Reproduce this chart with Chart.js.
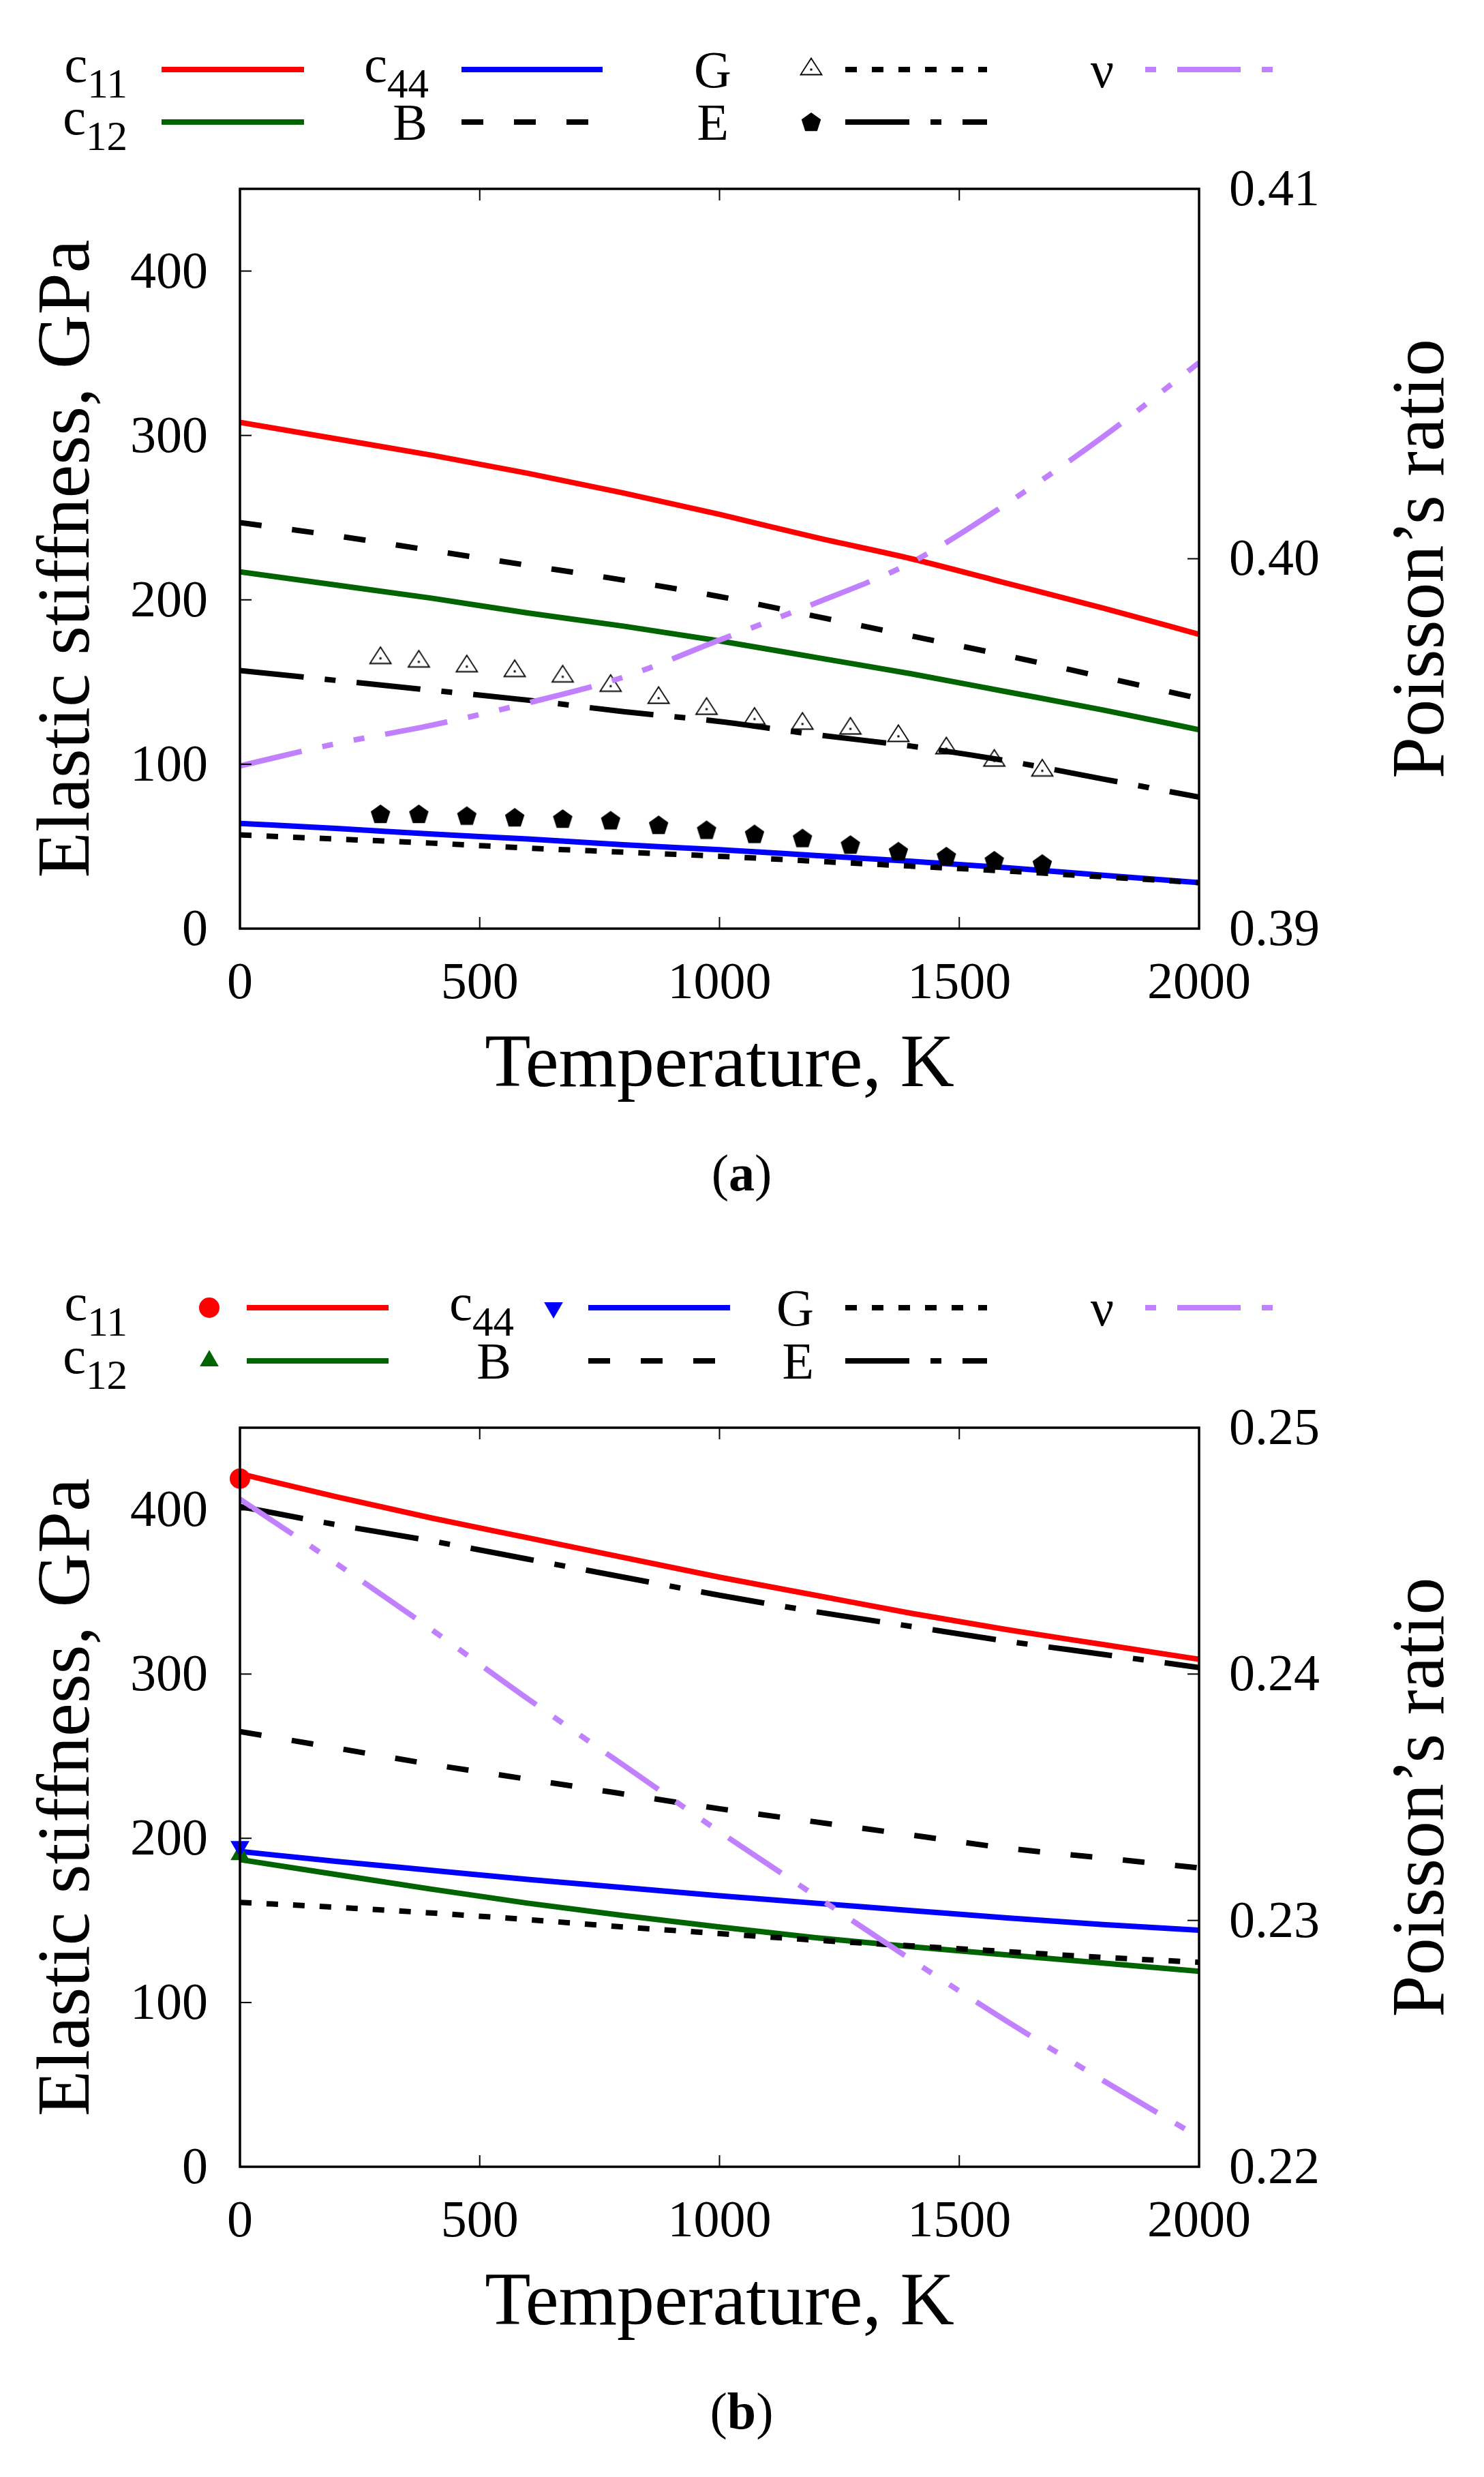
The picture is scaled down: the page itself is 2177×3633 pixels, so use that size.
<!DOCTYPE html>
<html><head><meta charset="utf-8">
<script src="https://cdn.jsdelivr.net/npm/chart.js@4.4.1/dist/chart.umd.min.js"></script>
<style>
html,body{margin:0;padding:0;background:#fff;}
#wrap{position:relative;width:2177px;height:3633px;background:#fff;overflow:hidden;}
canvas{position:absolute;left:0;}
</style></head><body>
<div id="wrap">
<canvas id="ca" width="2177" height="1816" style="top:0;width:2177px;height:1816px"></canvas>
<canvas id="cb" width="2177" height="1817" style="top:1816px;width:2177px;height:1817px"></canvas>
</div>
<script>
// ---------------- DATA ----------------
const temps = [0, 200, 400, 600, 800, 1000, 1200, 1400, 1600, 1800, 2000];
// panel (a)
const c11A = [308, 298, 288, 277, 265, 252, 238, 225, 210, 195, 179];
const c12A = [217, 209, 201, 192, 184, 175, 165, 155, 144, 133, 121];
const c44A = [64, 61, 57.5, 54.5, 51, 48, 44.5, 41, 37, 32.5, 28];
const bulkA = [247, 239, 230, 221, 212, 202, 190, 178, 166, 153, 140];
const shearA = [57, 54.5, 52, 49, 46.5, 44, 41, 38, 35, 31.5, 28];
const youngA = [157, 151, 145, 139, 132, 126, 118, 111, 102, 91, 80];
const poissonA = [0.3944, 0.3950, 0.3955, 0.3961, 0.3968, 0.3978, 0.3988, 0.3999, 0.4015, 0.4033, 0.4053];
const expTempsA = [293, 373, 473, 573, 673, 773, 873, 973, 1073, 1173, 1273, 1373, 1473, 1573, 1673];
const shearExpA = [164.4, 162.3, 159.4, 156.5, 153.2, 147.5, 140.2, 133.5, 127.5, 124.5, 121.5, 117, 109.5, 102, 96];
const youngExpA = [69.7, 69.7, 68.6, 67.6, 66.8, 65.8, 63, 60, 57.5, 55, 51, 47, 44, 41.5, 39.5];
// panel (b)
const c11B = [422, 408, 395, 383, 371, 359, 348, 337, 327, 318, 309];
const c12B = [187, 178, 169, 160.5, 153, 146, 139.5, 134, 129, 124, 119];
const c44B = [192, 186, 180.5, 175, 170, 165, 160.5, 156, 151.5, 147.5, 144];
const bulkB = [265, 255, 245, 236, 227, 218, 210, 202, 194, 188, 182];
const shearB = [161, 158, 154.5, 150.5, 146, 142, 138, 134.5, 131, 127.5, 124.5];
const youngB = [402, 391, 381, 370, 359, 348, 338, 329, 320, 312, 304];
const poissonB = [0.2471, 0.2445, 0.2418, 0.2390, 0.2363, 0.2336, 0.2310, 0.2284, 0.2259, 0.2235, 0.2212];
const expTempsB = [0];
const c11ExpB = [419];
const c12ExpB = [190];
const c44ExpB = [195];
// ticks
const xTicks = [0, 500, 1000, 1500, 2000];
const yTicks = [0, 100, 200, 300, 400];
const y2TicksA = [0.39, 0.40, 0.41];
const y2TicksB = [0.22, 0.23, 0.24, 0.25];

// ---------------- STYLE ----------------
const FONT = "'Liberation Serif','Times New Roman',serif";
const RED = '#ff0000', GREEN = '#006400', BLUE = '#0000ff', BLACK = '#000000', PURPLE = '#c080ff';
const DOT = [17, 22], DASH = [32, 45], DASHDOT = [94, 31, 16, 31], DASHDOTDOT = [93, 31, 16, 31, 16, 31];
const LW = 8;
Chart.defaults.font.family = FONT;

function makeOpenTri() {
  const c = document.createElement('canvas'); c.width = 40; c.height = 40;
  const g = c.getContext('2d'); const cx = 20, cy = 20;
  g.strokeStyle = '#000'; g.lineWidth = 1.8; g.lineJoin = 'miter'; g.beginPath();
  g.moveTo(cx, cy - 16.5); g.lineTo(cx + 15.5, cy + 7.5); g.lineTo(cx - 15.5, cy + 7.5);
  g.closePath(); g.stroke();
  g.fillStyle = '#000'; g.fillRect(cx - 1.5, cy - 1.5, 3, 3);
  return c;
}
function makePentagon() {
  const c = document.createElement('canvas'); c.width = 36; c.height = 36;
  const g = c.getContext('2d'); const cx = 18, cy = 19, R = 15;
  g.fillStyle = '#000'; g.beginPath();
  for (let k = 0; k < 5; k++) { const a = -Math.PI / 2 + k * 2 * Math.PI / 5; g.lineTo(cx + R * Math.cos(a), cy + R * Math.sin(a)); }
  g.closePath(); g.fill();
  return c;
}
const TRI_IMG = makeOpenTri();
const PENT_IMG = makePentagon();

function pts(xs, ys) { return xs.map((x, i) => ({ x: x, y: ys[i] })); }
function lineDs(label, xs, ys, color, dash, axis) {
  return { label, data: pts(xs, ys), borderColor: color, backgroundColor: color, borderWidth: LW,
    borderDash: dash, borderCapStyle: 'butt', borderJoinStyle: 'round', pointRadius: 0, pointHoverRadius: 0,
    cubicInterpolationMode: 'monotone', yAxisID: axis || 'y', fill: false };
}
function markDs(label, xs, ys, style, color, radius, rotation) {
  return { label, data: pts(xs, ys), showLine: false, pointStyle: style, pointRadius: radius, pointHoverRadius: radius,
    pointRotation: rotation || 0, pointBackgroundColor: color, pointBorderColor: color, pointBorderWidth: 0,
    yAxisID: 'y', clip: false };
}

function drawMarker(ctx, m, x, y) {
  ctx.save();
  if (m.type === 'img') { ctx.drawImage(m.img, Math.round(x - m.img.width / 2), Math.round(y - m.img.height / 2)); }
  else if (m.type === 'circle') { ctx.fillStyle = m.color; ctx.beginPath(); ctx.arc(x, y, m.r, 0, 2 * Math.PI); ctx.fill(); }
  else if (m.type === 'tri') {
    ctx.fillStyle = m.color; ctx.beginPath();
    let rad = (m.rot || 0) * Math.PI / 180;
    for (let k = 0; k < 3; k++) { ctx.lineTo(x + Math.sin(rad) * m.r, y - Math.cos(rad) * m.r); rad += 2 * Math.PI / 3; }
    ctx.closePath(); ctx.fill();
  }
  ctx.restore();
}

function drawLegend(ctx, items) {
  items.forEach(it => {
    const y = it.row;
    ctx.save();
    ctx.fillStyle = '#000'; ctx.textAlign = 'right'; ctx.textBaseline = 'alphabetic';
    if (it.sub) {
      ctx.font = '61px ' + FONT;
      const ws = ctx.measureText(it.sub).width;
      ctx.fillText(it.sub, it.tx, y + 41);
      ctx.font = '76px ' + FONT;
      ctx.fillText(it.text, it.tx - ws, y + 18);
    } else {
      ctx.font = '76px ' + FONT;
      ctx.fillText(it.text, it.tx, y + 26);
    }
    ctx.restore();
    if (it.marker) drawMarker(ctx, it.marker, it.mx, y);
    ctx.save();
    ctx.strokeStyle = it.color; ctx.lineWidth = LW; ctx.lineCap = 'butt';
    ctx.setLineDash(it.dash || []); ctx.lineDashOffset = it.off || 0;
    ctx.beginPath(); ctx.moveTo(it.s0, y); ctx.lineTo(it.s1, y); ctx.stroke();
    ctx.restore();
  });
}

function decorPlugin(panelLetter, legendItems) {
  return {
    id: 'decor' + panelLetter,
    afterDraw(chart) {
      const ctx = chart.ctx, a = chart.chartArea, s = chart.scales;
      ctx.save();
      ctx.strokeStyle = '#000'; ctx.lineWidth = 2; const TL = 17;
      s.x.ticks.forEach(t => {
        const px = s.x.getPixelForValue(t.value);
        if (px <= a.left + 1 || px >= a.right - 1) return;
        ctx.beginPath(); ctx.moveTo(px, a.bottom); ctx.lineTo(px, a.bottom - TL);
        ctx.moveTo(px, a.top); ctx.lineTo(px, a.top + TL); ctx.stroke();
      });
      s.y.ticks.forEach(t => {
        const py = s.y.getPixelForValue(t.value);
        if (py >= a.bottom - 1 || py <= a.top + 1) return;
        ctx.beginPath(); ctx.moveTo(a.left, py); ctx.lineTo(a.left + TL, py); ctx.stroke();
      });
      s.y1.ticks.forEach(t => {
        const py = s.y1.getPixelForValue(t.value);
        if (py >= a.bottom - 1 || py <= a.top + 1) return;
        ctx.beginPath(); ctx.moveTo(a.right, py); ctx.lineTo(a.right - TL, py); ctx.stroke();
      });
      ctx.lineWidth = 3.5; ctx.strokeRect(a.left, a.top, a.right - a.left, a.bottom - a.top);
      ctx.fillStyle = '#000'; ctx.font = '110px ' + FONT; ctx.textAlign = 'center'; ctx.textBaseline = 'alphabetic';
      ctx.fillText('Temperature, K', (a.left + a.right) / 2, a.bottom + 231);
      const mid = (a.top + a.bottom) / 2;
      ctx.save(); ctx.translate(130, mid); ctx.rotate(-Math.PI / 2); ctx.fillText('Elastic stiffness, GPa', 0, 0); ctx.restore();
      ctx.save(); ctx.translate(2117, mid); ctx.rotate(-Math.PI / 2); ctx.fillText('Poisson\u2019s ratio', 0, 0); ctx.restore();
      ctx.font = '76px ' + FONT; const wl = ctx.measureText('(').width, wr = ctx.measureText(')').width;
      ctx.font = 'bold 76px ' + FONT; const wm = ctx.measureText(panelLetter).width;
      const tot = wl + wm + wr; let x0 = 1088 - tot / 2; const by = a.bottom + 384;
      ctx.textAlign = 'left';
      ctx.font = '76px ' + FONT; ctx.fillText('(', x0, by);
      ctx.font = 'bold 76px ' + FONT; ctx.fillText(panelLetter, x0 + wl, by);
      ctx.font = '76px ' + FONT; ctx.fillText(')', x0 + wl + wm, by);
      ctx.restore();
      drawLegend(ctx, legendItems);
    }
  };
}

function makeChart(canvasId, H, top, bottom, datasets, y2min, y2max, y2ticks, letter, legendItems) {
  datasets.forEach((d, i) => { d.order = -i; });
  const tickFont = { family: FONT, size: 76 };
  return new Chart(document.getElementById(canvasId), {
    type: 'line',
    data: { datasets },
    options: {
      responsive: false, animation: false, devicePixelRatio: 1, events: [],
      layout: { padding: { top: top, bottom: 0, left: 0, right: 0 } },
      plugins: { legend: { display: false }, tooltip: { enabled: false }, title: { display: false } },
      scales: {
        x: { type: 'linear', min: 0, max: 2000,
          afterBuildTicks: sc => { sc.ticks = xTicks.map(v => ({ value: v })); },
          ticks: { font: tickFont, color: '#000', padding: 36, maxRotation: 0, autoSkip: false, callback: v => String(v) },
          grid: { display: false, drawTicks: false }, border: { display: false },
          afterFit: sc => { sc.height = H - bottom; } },
        y: { type: 'linear', position: 'left', min: 0, max: 450,
          afterBuildTicks: sc => { sc.ticks = yTicks.map(v => ({ value: v })); },
          ticks: { font: tickFont, color: '#000', padding: 47, autoSkip: false, labelOffset: 4, callback: v => String(v) },
          grid: { display: false, drawTicks: false }, border: { display: false },
          afterFit: sc => { sc.width = 352; } },
        y1: { type: 'linear', position: 'right', min: y2min, max: y2max,
          afterBuildTicks: sc => { sc.ticks = y2ticks.map(v => ({ value: v })); },
          ticks: { font: tickFont, color: '#000', padding: 44, autoSkip: false, labelOffset: 4, callback: v => Number(v).toFixed(2) },
          grid: { display: false, drawTicks: false }, border: { display: false },
          afterFit: sc => { sc.width = 2177 - 1759; } }
      }
    },
    plugins: [decorPlugin(letter, legendItems)]
  });
}

// panel (a)
const dsA = [
  lineDs('c11', temps, c11A, RED, []),
  lineDs('c12', temps, c12A, GREEN, []),
  lineDs('c44', temps, c44A, BLUE, []),
  lineDs('B', temps, bulkA, BLACK, DASH),
  markDs('G exp', expTempsA, shearExpA, TRI_IMG, BLACK, 10),
  lineDs('G', temps, shearA, BLACK, DOT),
  markDs('E exp', expTempsA, youngExpA, PENT_IMG, BLACK, 10),
  lineDs('E', temps, youngA, BLACK, DASHDOT),
  lineDs('\u03bd', temps, poissonA, PURPLE, DASHDOTDOT, 'y1')
];
const legA = [
  { row: 102, text: 'c', sub: '11', tx: 187, s0: 237, s1: 446, color: RED },
  { row: 102, text: 'c', sub: '44', tx: 629, s0: 677, s1: 884, color: BLUE },
  { row: 102, text: 'G', tx: 1073, marker: { type: 'img', img: TRI_IMG }, mx: 1190, s0: 1240, s1: 1448, color: BLACK, dash: DOT },
  { row: 102, text: '\u03bd', tx: 1634, s0: 1680, s1: 1888, color: PURPLE, dash: DASHDOTDOT, off: 171 },
  { row: 179, text: 'c', sub: '12', tx: 187, s0: 237, s1: 446, color: GREEN },
  { row: 179, text: 'B', tx: 627, s0: 677, s1: 884, color: BLACK, dash: DASH },
  { row: 179, text: 'E', tx: 1069, marker: { type: 'img', img: PENT_IMG }, mx: 1190, s0: 1240, s1: 1448, color: BLACK, dash: DASHDOT }
];
makeChart('ca', 1816, 277, 1362, dsA, 0.39, 0.41, y2TicksA, 'a', legA);

// panel (b)
const dsB = [
  lineDs('c11', temps, c11B, RED, []),
  lineDs('c12', temps, c12B, GREEN, []),
  lineDs('c44', temps, c44B, BLUE, []),
  lineDs('B', temps, bulkB, BLACK, DASH),
  lineDs('G', temps, shearB, BLACK, DOT),
  lineDs('E', temps, youngB, BLACK, DASHDOT),
  lineDs('\u03bd', temps, poissonB, PURPLE, DASHDOTDOT, 'y1'),
  markDs('c11 exp', expTempsB, c11ExpB, 'circle', RED, 15),
  markDs('c12 exp', expTempsB, c12ExpB, 'triangle', GREEN, 16),
  markDs('c44 exp', expTempsB, c44ExpB, 'triangle', BLUE, 16, 180)
];
const legB = [
  { row: 102, text: 'c', sub: '11', tx: 187, marker: { type: 'circle', r: 15, color: RED }, mx: 307, s0: 362, s1: 570, color: RED },
  { row: 102, text: 'c', sub: '44', tx: 754, marker: { type: 'tri', r: 16, rot: 180, color: BLUE }, mx: 812, s0: 863, s1: 1071, color: BLUE },
  { row: 102, text: 'G', tx: 1194, s0: 1240, s1: 1448, color: BLACK, dash: DOT },
  { row: 102, text: '\u03bd', tx: 1634, s0: 1680, s1: 1888, color: PURPLE, dash: DASHDOTDOT, off: 171 },
  { row: 180, text: 'c', sub: '12', tx: 187, marker: { type: 'tri', r: 16, rot: 0, color: GREEN }, mx: 307, s0: 362, s1: 570, color: GREEN },
  { row: 180, text: 'B', tx: 750, s0: 863, s1: 1071, color: BLACK, dash: DASH },
  { row: 180, text: 'E', tx: 1194, s0: 1240, s1: 1448, color: BLACK, dash: DASHDOT }
];
makeChart('cb', 1817, 278, 1362, dsB, 0.22, 0.25, y2TicksB, 'b', legB);
</script>
</body></html>
